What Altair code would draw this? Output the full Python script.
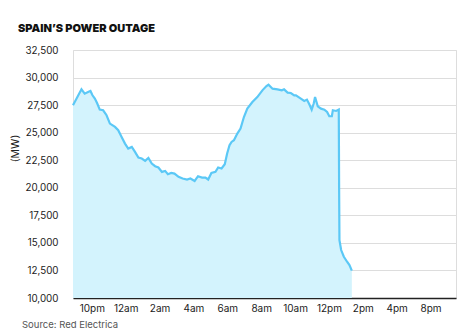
import altair as alt
import pandas as pd

hours = [-3.11, -2.61, -2.42, -2.22, -2.08, -1.96, -1.82, -1.69, -1.53, -1.33, -1.13, -0.93,
         -0.63, -0.44, -0.24, -0.04, 0.15, 0.36, 0.55, 0.75, 0.95, 1.15, 1.34, 1.54, 1.74, 1.93,
         2.14, 2.33, 2.49, 2.69, 2.88, 3.12, 3.36, 3.62, 3.82, 4.07, 4.27, 4.51, 4.71, 4.87,
         5.06, 5.30, 5.46, 5.66, 5.85, 5.99, 6.13, 6.25, 6.39, 6.59, 6.78, 6.98, 7.18, 7.48,
         7.77, 8.07, 8.31, 8.43, 8.67, 8.96, 9.22, 9.35, 9.56, 9.75, 9.95, 10.05, 10.34, 10.54,
         10.70, 10.84, 10.98, 11.10, 11.18, 11.34, 11.53, 11.73, 11.89, 12.02, 12.17, 12.23,
         12.42, 12.58, 12.60, 12.62, 12.72, 12.88, 13.07, 13.21, 13.35]
mw = [27480, 28930, 28540, 28690, 28780, 28390, 28090, 27690, 27090, 27030, 26580, 25820,
      25520, 25220, 24610, 24010, 23560, 23700, 23250, 22740, 22650, 22440, 22700, 22200, 21960, 21840,
      21440, 21530, 21230, 21350, 21290, 20990, 20840, 20750, 20840, 20620, 21050, 20930, 20930, 20750,
      21350, 21440, 21840, 21750, 22140, 23110, 23860, 24160, 24310, 24920, 25370, 26420, 27180, 27780,
      28230, 28840, 29230, 29350, 28990, 28930, 28840, 28930, 28630, 28600, 28390, 28390, 28090, 27880,
      28000, 27570, 27090, 27640, 28230, 27390, 27180, 27090, 26880, 26490, 26490, 27030,
      26970, 27090, 20000, 15250, 14350, 13740, 13290, 12990, 12480]

tick_hours = [-2, 0, 2, 4, 6, 8, 10, 12, 14, 16, 18]
tick_labels = ["10pm", "12am", "2am", "4am", "6am", "8am", "10am", "12pm", "2pm", "4pm", "8pm"]
y_ticks = [10000, 12500, 15000, 17500, 20000, 22500, 25000, 27500, 30000, 32500]

df = pd.DataFrame({"h": hours, "mw": mw})

label_map = "{" + ",".join(f"'{h}':'{l}'" for h, l in zip(tick_hours, tick_labels)) + "}"

FONT = "Inter"

x = alt.X("h:Q", scale=alt.Scale(domain=[-3.11, 19.5], nice=False, zero=False),
          axis=alt.Axis(values=tick_hours, labelExpr=f"{label_map}[datum.value]",
                        title=None, grid=False, ticks=False, domain=True,
                        domainColor="#222", domainWidth=1.5, labelPadding=5,
                        labelFontSize=10, labelColor="#222", labelFont=FONT))
y = alt.Y("mw:Q", scale=alt.Scale(domain=[10000, 32500], nice=False, zero=False),
          axis=alt.Axis(values=y_ticks, format=",.0f", title="(MW)", grid=True,
                        gridColor="#dddddd", ticks=False, domain=False,
                        labelPadding=15, labelFontSize=9.8, labelColor="#222",
                        labelFont=FONT, titleFont=FONT, titleFontSize=10.5,
                        titleFontWeight="normal", titleColor="#222",
                        titleX=-58, titleY=98, titleAlign="center", titleBaseline="middle"))

area = alt.Chart(df).mark_area(
    color="#d3f3fd", opacity=1,
    line={"color": "#5bc8f6", "strokeWidth": 2.2}
).encode(x=x, y=y, y2=alt.datum(10000))

source = alt.Chart(df).mark_text(
    text="Source: Red Electrica", align="left", baseline="middle",
    font=FONT, fontSize=9.5, color="#555"
).encode(x=alt.value(-51), y=alt.value(275)).transform_filter("datum.h == -3.11")

chart = (area + source).properties(
    width=383, height=248,
    padding={"left": 73, "top": 50, "right": 2, "bottom": 38},
    autosize=alt.AutoSizeParams(type="none"),
    title=alt.TitleParams("SPAIN’S POWER OUTAGE", anchor="start", frame="group",
                          dx=-55, offset=11, font=FONT, fontSize=11, fontWeight=900,
                          color="#111")
).configure_view(stroke=None).configure(background="white")

chart.save("out.html", embed_options={"renderer": "svg", "actions": False})
